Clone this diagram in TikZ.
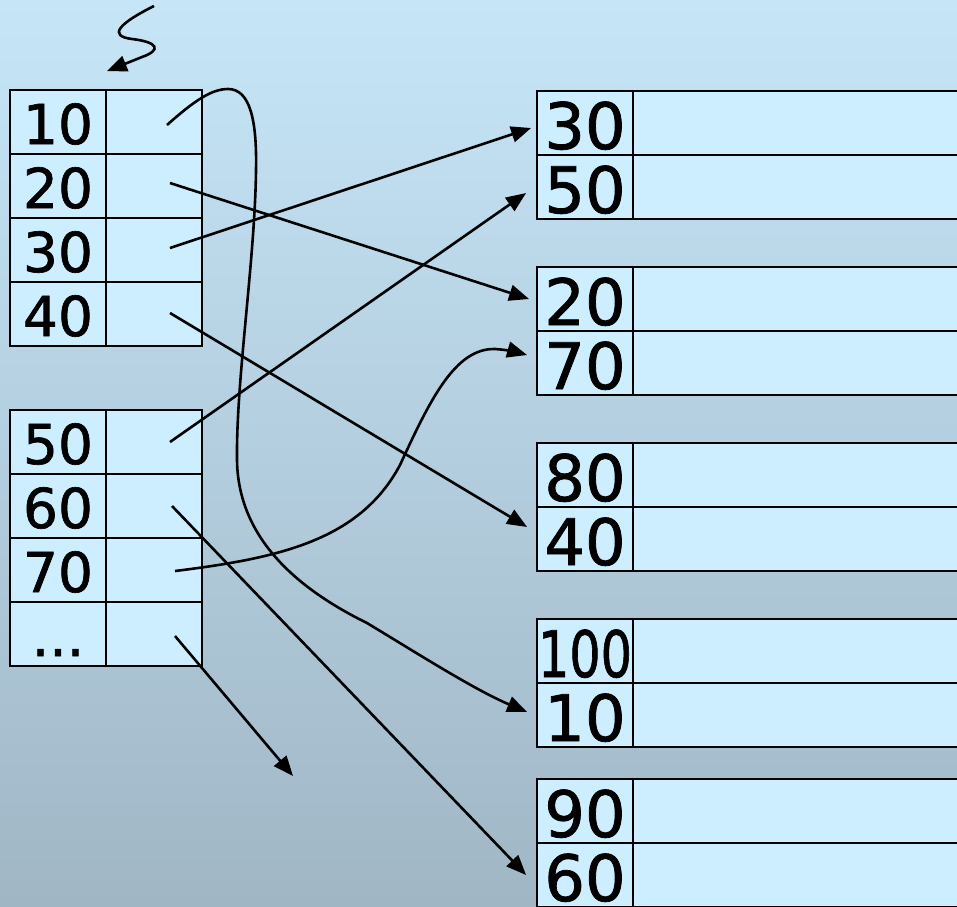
\documentclass[tikz,border=0pt]{standalone}
\usepackage{fontspec}
\setmainfont{DejaVu Sans}[FakeBold = 1.2]
\usetikzlibrary{arrows.meta, calc}
\definecolor{bgtop}{HTML}{C6E6F8}
\definecolor{bgbot}{HTML}{A0B6C5}
\definecolor{cellfill}{HTML}{CCEEFF}
\tikzset{> = { Triangle[length = 20pt, width = 16pt] }}
\tikzset{
	cell/.style = {draw, fill = cellfill, line width = 1.8pt, inner sep = 0pt,
		minimum width = 96pt, minimum height = 64pt},
	lkey/.style = {cell, font = \fontsize{55}{60}\selectfont, text height = 44pt, text depth = 0pt},
	rkey/.style = {cell, font = \fontsize{64}{70}\selectfont, text height = 52pt, text depth = 0pt},
	rec/.style = {cell, minimum width = 360pt},
	ptr/.style = {->, line width = 2.6pt}
}

\begin{document}
\begin{tikzpicture}[x = 1pt, y = -1pt]
	\useasboundingbox (0, 0) rectangle (957, 906);
	\clip (0, 0) rectangle (957, 906);
	\shade [top color = bgtop, bottom color = bgbot] (0, 0) rectangle (957, 906);

	% Left index, first block.
	\node [lkey] (k10) at (58, 122) {10};
	\node [cell] (p10) at (154, 122) {};
	\node [lkey] (k20) at (58, 186) {20};
	\node [cell] (p20) at (154, 186) {};
	\node [lkey] (k30) at (58, 250) {30};
	\node [cell] (p30) at (154, 250) {};
	\node [lkey] (k40) at (58, 314) {40};
	\node [cell] (p40) at (154, 314) {};

	% Left index, second block.
	\node [lkey] (k50) at (58, 442) {50};
	\node [cell] (p50) at (154, 442) {};
	\node [lkey] (k60) at (58, 506) {60};
	\node [cell] (p60) at (154, 506) {};
	\node [lkey] (k70) at (58, 570) {70};
	\node [cell] (p70) at (154, 570) {};
	\node [lkey] (kdots) at (58, 634) {...};
	\node [cell] (pdots) at (154, 634) {};

	% Data blocks.
	\node [rkey] (r30) at (585, 123) {30};
	\node [rec] (d30) at (813, 123) {};
	\node [rkey] (r50) at (585, 187) {50};
	\node [rec] (d50) at (813, 187) {};

	\node [rkey] (r20) at (585, 299) {20};
	\node [rec] (d20) at (813, 299) {};
	\node [rkey] (r70) at (585, 363) {70};
	\node [rec] (d70) at (813, 363) {};

	\node [rkey] (r80) at (585, 475) {80};
	\node [rec] (d80) at (813, 475) {};
	\node [rkey] (r40) at (585, 539) {40};
	\node [rec] (d40) at (813, 539) {};

	\node [rkey] (r100) at (585, 651) {\scalebox{0.77}[1]{100}};
	\node [rec] (d100) at (813, 651) {};
	\node [rkey] (r10) at (585, 715) {10};
	\node [rec] (d10) at (813, 715) {};

	\node [rkey] (r90) at (585, 811) {90};
	\node [rec] (d90) at (813, 811) {};
	\node [rkey] (r60) at (585, 875) {60};
	\node [rec] (d60) at (813, 875) {};

	% Squiggle into the index.
	\coordinate (S) at (154, 6);
	\draw [ptr] (S)
		.. controls (118, 24) and (108, 36) .. (132, 39)
		.. controls (158, 42) and (162, 50) .. (142, 57)
		to ([yshift = 18pt]k10.north east);

	% Pointers.
	\draw [ptr] ([xshift = 13pt, yshift = -3pt]p10.center)
		.. controls (195, 100) and (212, 89) .. (228, 89)
		.. controls (250, 89) and (257, 120) .. (256, 170)
		.. controls (255, 260) and (236, 380) .. (237, 460)
		.. controls (238, 540) and (300, 590) .. (367, 623)
		.. controls (420, 655) and (475, 690) .. ([xshift = -9pt, yshift = 3pt]r10.west);
	\draw [ptr] ([xshift = 16pt, yshift = 3pt]p20.center) to ([xshift = -7pt]r20.west);
	\draw [ptr] ([xshift = 16pt, yshift = 2pt]p30.center) to ([xshift = -5pt, yshift = -5pt]r30.west);
	\draw [ptr] ([xshift = 16pt, yshift = 1pt]p40.center) to ([xshift = -9pt, yshift = 12pt]r40.west);
	\draw [ptr] ([xshift = 16pt]p50.center) to ([xshift = -10pt, yshift = -6pt]r50.west);
	\draw [ptr] ([xshift = 18pt]p60.center) to ([xshift = -10pt]r60.west);
	\draw [ptr] ([xshift = 21pt, yshift = -1pt]p70.center)
		.. controls (280, 558) and (360, 540) .. (400, 465)
		.. controls (430, 400) and (455, 348) .. (495, 349)
		.. controls (510, 350) and (520, 353) .. ([xshift = -9pt, yshift = 8pt]r70.west);
	\coordinate (E) at (293, 776);
	\draw [ptr] ([xshift = 21pt, yshift = -2pt]pdots.center) to (E);
\end{tikzpicture}
\end{document}
